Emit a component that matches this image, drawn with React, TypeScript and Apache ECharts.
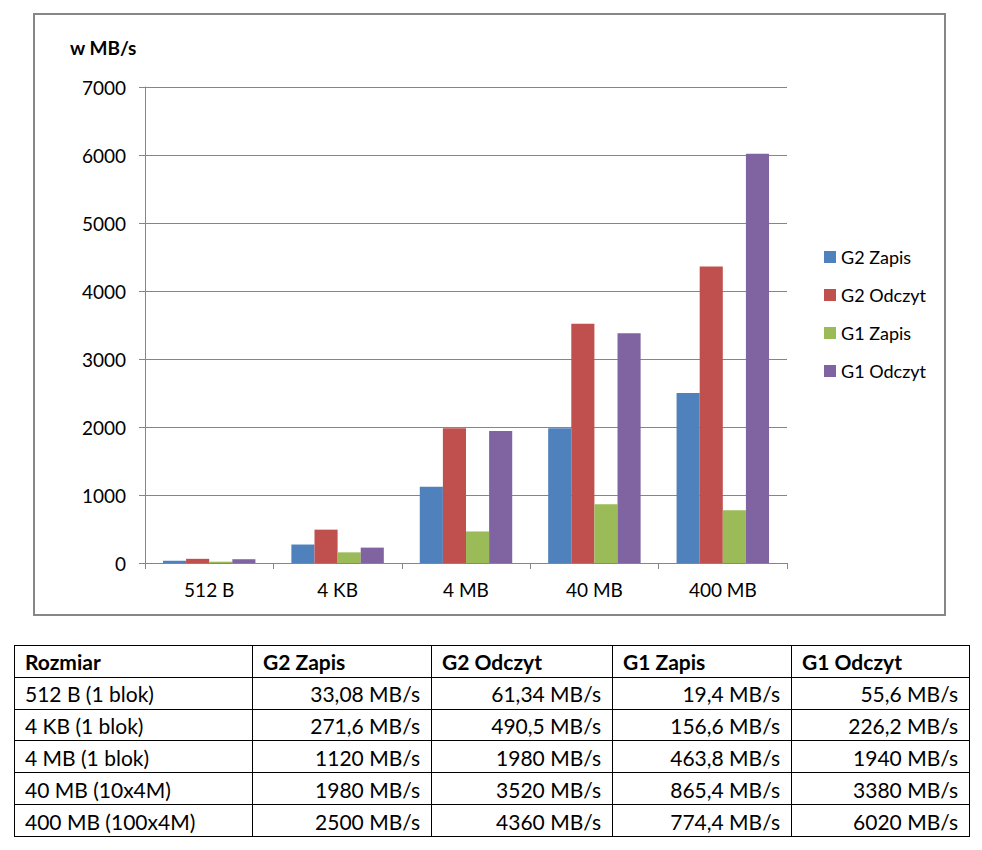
import React, { useEffect, useRef } from "react";
import * as echarts from "echarts";

const categories = ["512 B", "4 KB", "4 MB", "40 MB", "400 MB"];
const rowLabels = ["512 B (1 blok)", "4 KB (1 blok)", "4 MB (1 blok)", "40 MB (10x4M)", "400 MB (100x4M)"];
const seriesNames = ["G2 Zapis", "G2 Odczyt", "G1 Zapis", "G1 Odczyt"];
const g2Zapis = [33.08, 271.6, 1120, 1980, 2500];
const g2Odczyt = [61.34, 490.5, 1980, 3520, 4360];
const g1Zapis = [19.4, 156.6, 463.8, 865.4, 774.4];
const g1Odczyt = [55.6, 226.2, 1940, 3380, 6020];
const colors = ["#4F81BD", "#C0504D", "#9BBB59", "#8064A2"];
const tableHeader = ["Rozmiar", "G2 Zapis", "G2 Odczyt", "G1 Zapis", "G1 Odczyt"];
const yAxisTitle = "w MB/s";
const unit = " MB/s";

const FONT = 'Lato, "Noto Sans", sans-serif';

function fmt(v: number): string {
  return String(v).replace(".", ",") + unit;
}

export default function App() {
  const ref = useRef<HTMLDivElement>(null);
  useEffect(() => {
    if (!ref.current) return;
    const chart = echarts.init(ref.current, undefined, { renderer: "svg" });
    const allSeries = [g2Zapis, g2Odczyt, g1Zapis, g1Odczyt];

    // table geometry
    const colX = [14, 252, 431, 612, 791, 969];
    const rowTop = 645;
    const rowH = 31.83;
    const nRows = rowLabels.length + 1;
    const tableEls: any[] = [];
    for (let r = 0; r <= nRows; r++) {
      const y = Math.round(rowTop + r * rowH) + 0.5;
      tableEls.push({
        type: "line",
        shape: { x1: colX[0], y1: y, x2: colX[colX.length - 1] + 1, y2: y },
        style: { stroke: "#000", lineWidth: 1 },
      });
    }
    const yBottom = Math.round(rowTop + nRows * rowH) + 0.5;
    for (let c = 0; c < colX.length; c++) {
      tableEls.push({
        type: "line",
        shape: { x1: colX[c] + 0.5, y1: rowTop + 0.5, x2: colX[c] + 0.5, y2: yBottom },
        style: { stroke: "#000", lineWidth: 1 },
      });
    }
    tableHeader.forEach((h, c) => {
      tableEls.push({
        type: "text",
        style: {
          text: h,
          x: colX[c] + 11,
          y: rowTop + rowH / 2 + 1,
          fill: "#000",
          fontFamily: FONT,
          fontSize: 21,
          fontWeight: "bold",
          align: "left",
          verticalAlign: "middle",
        },
      });
    });
    rowLabels.forEach((lab, r) => {
      const cy = rowTop + (r + 1) * rowH + rowH / 2 + 1;
      tableEls.push({
        type: "text",
        style: {
          text: lab,
          x: colX[0] + 11,
          y: cy,
          fill: "#000",
          fontFamily: FONT,
          fontSize: 21,
          align: "left",
          verticalAlign: "middle",
        },
      });
      allSeries.forEach((s, c) => {
        tableEls.push({
          type: "text",
          style: {
            text: fmt(s[r]),
            x: colX[c + 2] - 11,
            y: cy,
            fill: "#000",
            fontFamily: FONT,
            fontSize: 21,
            align: "right",
            verticalAlign: "middle",
          },
        });
      });
    });

    chart.setOption({
      animation: false,
      backgroundColor: "#fff",
      color: colors,
      textStyle: { fontFamily: FONT },
      grid: { left: 145, right: 195, top: 87, bottom: 287, containLabel: false },
      legend: {
        orient: "vertical",
        left: 819,
        top: 242,
        icon: "rect",
        itemWidth: 12,
        itemHeight: 12,
        itemGap: 18,
        data: seriesNames,
        textStyle: { fontSize: 18, color: "#000", fontFamily: FONT, lineHeight: 20 },
      },
      xAxis: {
        type: "category",
        data: categories,
        axisLine: { lineStyle: { color: "#868686", width: 1 } },
        axisTick: { show: true, length: 6, inside: false, lineStyle: { color: "#868686" } },
        axisLabel: { fontSize: 19, color: "#000", margin: 17, fontFamily: FONT },
        splitLine: { show: false },
      },
      yAxis: {
        type: "value",
        min: 0,
        max: 7000,
        interval: 1000,
        axisLine: { show: true, lineStyle: { color: "#868686", width: 1 } },
        axisTick: { show: true, length: 6, inside: false, lineStyle: { color: "#868686" } },
        axisLabel: {
          fontSize: 19,
          color: "#000",
          margin: 19,
          fontFamily: FONT,
          formatter: (v: number) => String(v),
        },
        splitLine: { show: true, lineStyle: { color: "#868686", width: 1 } },
      },
      series: allSeries.map((d, i) => ({
        name: seriesNames[i],
        type: "bar",
        data: d,
        barGap: "0%",
        barCategoryGap: "28%",
        itemStyle: { color: colors[i] },
      })),
      graphic: [
        {
          type: "rect",
          shape: { x: 34, y: 14, width: 911, height: 601 },
          style: { fill: "none", stroke: "#868686", lineWidth: 2 },
          silent: true,
        },
        {
          type: "text",
          style: {
            text: yAxisTitle,
            x: 70,
            y: 47,
            fill: "#000",
            fontFamily: FONT,
            fontSize: 19,
            fontWeight: "bold",
            align: "left",
            verticalAlign: "middle",
          },
        },
        ...tableEls,
      ],
    });
    return () => chart.dispose();
  }, []);
  return (
    <div
      ref={ref}
      style={{ position: "absolute", left: 0, top: 0, width: 982, height: 850 }}
    />
  );
}
